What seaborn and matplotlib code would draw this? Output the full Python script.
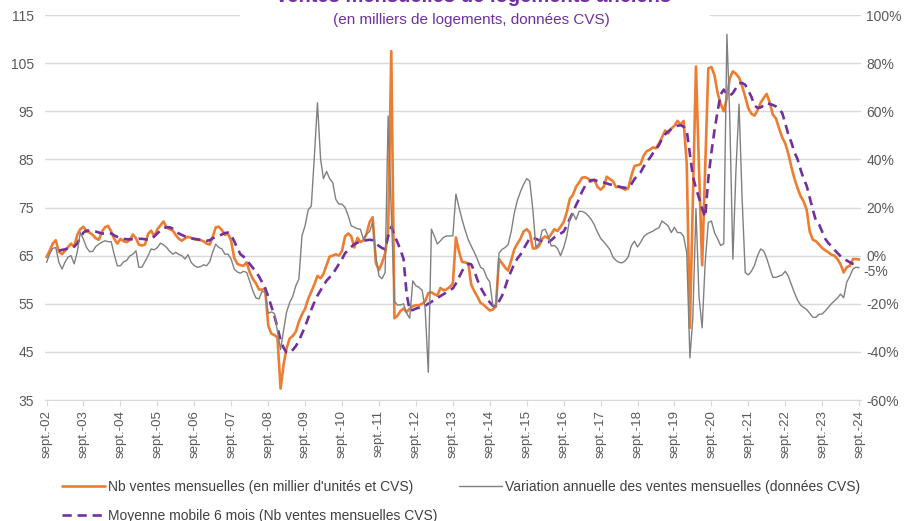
import numpy as np
import pandas as pd
import matplotlib
matplotlib.use("Agg")
import matplotlib.pyplot as plt
from matplotlib.patches import Rectangle
from matplotlib.ticker import FuncFormatter
import seaborn as sns

# Données mensuelles : sept. 2002 -> sept. 2024
months = pd.date_range("2002-09-01", periods=265, freq="MS")

# Nb ventes mensuelles (milliers, CVS)
ventes = [
    64.7, 66.0, 67.5, 68.2, 65.8, 65.3, 66.0, 66.8, 67.5, 66.8, 69.3, 70.5,
    71.0, 70.0, 69.8, 69.3, 68.6, 68.3, 70.0, 70.9, 71.2, 70.0, 68.5, 67.5,
    68.5, 68.0, 67.8, 68.2, 69.4, 68.6, 67.3, 67.1, 67.3, 69.5, 70.2, 69.0,
    70.5, 71.3, 72.1, 70.8, 70.5, 70.2, 69.3, 68.5, 68.1, 68.6, 68.9, 68.7,
    68.4, 68.3, 68.2, 68.0, 67.5, 67.3, 68.8, 70.9, 71.0, 70.3, 69.3, 69.6,
    68.0, 64.5, 63.3, 63.0, 62.9, 63.6, 61.6, 60.2, 59.3, 58.0, 57.9, 58.2,
    50.5, 48.8, 48.5, 48.0, 37.4, 42.5, 45.7, 47.8, 48.3, 49.2, 51.3, 52.8,
    54.0, 56.0, 57.5, 59.0, 60.8, 60.3, 61.2, 63.0, 64.8, 65.0, 65.3, 65.0,
    66.0, 69.0, 69.6, 69.0, 66.7, 68.7, 67.8, 68.2, 69.5, 72.0, 73.0, 63.5,
    62.0, 63.5, 65.5, 70.0, 107.5, 52.0, 52.5, 53.5, 54.0, 53.3, 54.0, 54.5,
    54.7, 54.7, 55.0, 55.5, 57.2, 57.4, 57.0, 56.7, 58.3, 57.8, 58.0, 58.5,
    59.2, 68.8, 65.8, 63.7, 63.6, 63.4, 59.0, 57.6, 56.5, 55.2, 54.8, 54.2,
    53.6, 53.8, 54.5, 64.3, 63.4, 62.5, 61.9, 64.0, 66.3, 67.5, 68.5, 70.0,
    70.5, 69.8, 66.5, 66.5, 67.0, 68.5, 69.0, 68.6, 69.5, 70.5, 70.1, 71.0,
    72.0, 74.0, 76.8, 77.6, 79.3, 80.2, 81.2, 81.3, 81.0, 80.4, 80.8, 79.3,
    78.7, 79.3, 81.4, 80.9, 80.5, 79.2, 79.4, 79.0, 78.7, 79.0, 81.5, 83.6,
    83.8, 84.0, 85.8, 86.7, 87.0, 87.5, 87.3, 88.3, 89.6, 91.0, 90.4, 91.4,
    92.0, 93.0, 92.3, 93.0, 84.0, 50.0, 76.0, 104.3, 83.0, 63.0, 83.0, 103.9,
    104.2, 102.5, 98.8, 96.5, 95.0, 97.8, 101.8, 103.3, 102.8, 102.0, 100.3, 98.0,
    95.6, 94.5, 94.1, 95.2, 96.8, 97.8, 98.6, 96.8, 94.3, 93.5, 91.5, 89.6,
    88.3, 86.2, 83.4, 81.0, 79.0, 77.3, 76.3, 74.5, 70.0, 68.3, 68.0, 67.3,
    66.6, 66.1, 65.7, 65.2, 65.0, 64.2, 63.2, 61.5, 62.6, 62.9, 64.3, 64.3,
    64.2,
]

# Moyenne mobile 6 mois
moyenne_6m = [
    np.nan, np.nan, np.nan, np.nan, 66.0, 66.2, 66.3, 66.5, 66.7, 66.9, 67.5, 68.8,
    69.8, 70.2, 70.2, 70.1, 70.0, 69.8, 69.6, 69.6, 69.7, 69.6, 69.2, 68.9,
    68.6, 68.5, 68.4, 68.4, 68.4, 68.4, 68.5, 68.5, 68.4, 68.3, 68.4, 69.0,
    69.6, 70.2, 70.7, 70.9, 70.9, 70.6, 70.1, 69.6, 69.3, 69.0, 68.8, 68.6,
    68.5, 68.4, 68.3, 68.2, 68.1, 68.2, 68.6, 68.9, 69.1, 69.4, 69.7, 69.8,
    69.2, 68.0, 66.5, 65.3, 64.8, 64.0, 63.3, 62.5, 61.7, 60.7, 59.5, 58.3,
    56.5, 54.5, 52.5, 50.0, 47.5, 45.8, 44.9, 44.8, 45.4, 46.2, 47.3, 48.8,
    50.3, 52.0, 53.8, 55.3, 56.7, 57.8, 58.8, 59.8, 60.5, 61.2, 62.2, 63.2,
    64.3, 65.5, 66.2, 66.8, 67.4, 67.7, 67.9, 68.1, 68.2, 68.3, 68.2, 67.6,
    67.0, 66.6, 66.3, 69.0, 71.0, 69.2, 67.8, 66.2, 64.3, 57.0, 53.6, 53.7,
    54.0, 54.2, 54.4, 54.6, 55.0, 55.4, 55.8, 56.2, 56.6, 57.0, 57.4, 57.8,
    58.2, 59.2, 60.5, 61.8, 62.8, 63.3, 63.2, 61.8, 60.0, 58.4, 57.3, 56.2,
    55.3, 54.6, 54.4, 55.5, 56.7, 58.5, 60.3, 61.8, 63.3, 64.4, 65.2, 66.4,
    67.5, 68.6, 68.7, 68.5, 68.2, 68.0, 67.8, 67.8, 68.2, 68.8, 69.2, 69.6,
    70.0, 71.2, 72.7, 74.0, 75.5, 76.8, 78.3, 79.5, 80.2, 80.7, 80.7, 80.5,
    80.3, 80.2, 80.0, 79.8, 79.7, 79.4, 79.3, 79.2, 79.1, 79.1, 79.8, 80.9,
    81.6, 82.3, 83.5, 84.5, 85.3, 86.3, 87.0, 88.0, 89.2, 90.2, 90.8, 91.3,
    91.7, 92.0, 92.1, 91.8, 91.0, 86.0, 81.5, 79.0, 77.0, 74.8, 73.0, 81.0,
    86.5, 91.0, 95.0, 98.5, 99.5, 98.5, 98.2, 98.8, 99.8, 100.8, 100.9, 100.5,
    99.3, 98.0, 96.2, 95.7, 95.8, 96.2, 96.7, 96.5, 96.3, 96.0, 95.4, 94.7,
    92.5, 90.2, 88.5, 86.5, 85.0, 82.8, 81.0, 79.5, 77.0, 74.5, 72.3, 71.5,
    70.0, 68.5, 67.6, 67.0, 66.2, 65.5, 64.9, 64.3, 64.0, 63.6, 63.3, 63.2,
    63.2,
]

# Variation annuelle (%)
variation = [
    -2.8, 0.6, 3.0, 3.4, -2.8, -5.6, -2.8, -0.6, 0.0, -3.4, 1.4, 9.6,
    6.8, 3.4, 1.6, 1.8, 3.8, 4.8, 5.6, 6.2, 5.8, 5.8, 0.5, -4.2,
    -4.2, -2.6, -2.0, -0.2, 0.6, 2.0, -4.8, -4.8, -2.5, 0.0, 2.8, 2.4,
    3.4, 5.2, 4.5, 3.4, 1.8, 0.6, 1.4, 0.5, 0.0, -1.4, 0.4, -2.8,
    -4.2, -4.8, -4.6, -3.8, -4.2, -2.5, 1.4, 4.8, 3.4, 2.8, 0.6, 0.6,
    -1.5, -5.6, -6.8, -7.3, -6.5, -7.0, -10.5, -14.5, -17.5, -18.0, -15.0, -15.0,
    -24.0, -23.4, -24.0, -31.5, -39.0, -31.0, -23.5, -19.5, -17.0, -12.5, -9.8, 8.3,
    12.5, 19.0, 20.6, 41.0, 63.5, 40.0, 32.0, 35.0, 32.0, 30.4, 23.4, 21.4,
    21.4, 20.0, 16.6, 12.4, 11.8, 11.2, 11.0, 6.8, 9.0, 10.0, 14.0, 0.0,
    -8.4, -9.6, -7.0, 58.0, 18.0, -19.0, -20.5, -20.5, -20.0, -24.0, -26.0, -10.5,
    -12.5, -13.2, -14.4, -22.0, -48.5, 11.0, 8.2, 4.8, 6.2, 7.6, 8.2, 8.2,
    8.2, 25.6, 20.0, 15.0, 10.5, 6.5, 4.0, 1.4, -1.5, -4.8, -5.6, -9.0,
    -11.0, -20.6, -21.5, 1.0, 2.6, 3.4, 4.6, 10.0, 17.6, 23.0, 26.5, 29.6,
    32.0, 31.0, 19.0, 3.5, 5.0, 10.5, 11.0, 8.0, 4.0, 4.2, 3.0, 0.0,
    3.4, 8.0, 15.6, 17.6, 15.0, 18.4, 18.4, 17.8, 16.6, 15.0, 12.8, 9.8,
    7.2, 5.8, 4.2, 2.6, -0.6, -2.0, -2.8, -3.0, -2.2, -0.5, 4.0, 6.0,
    3.6, 5.5, 7.8, 9.0, 9.6, 10.2, 11.0, 11.6, 14.4, 13.4, 12.4, 9.6,
    11.8, 9.6, 9.6, 8.0, 1.0, -42.5, -26.0, 19.5, -17.0, -30.0, -3.0, 13.8,
    14.4, 9.6, 7.0, 4.2, 5.0, 92.0, 58.0, -1.5, 35.0, 63.0, 24.0, -7.0,
    -8.0, -6.5, -4.0, 0.0, 2.8, 1.8, -1.0, -5.2, -9.0, -9.0, -8.5, -8.0,
    -6.5, -8.5, -12.0, -15.5, -18.5, -20.6, -21.5, -22.4, -24.0, -25.6, -25.6, -24.4,
    -24.2, -23.0, -21.5, -20.0, -18.8, -17.5, -16.0, -17.5, -11.0, -8.5, -5.6, -4.8,
    -5.0,
]

tick_labels = ["sept.-02", "sept.-03", "sept.-04", "sept.-05", "sept.-06", "sept.-07",
               "sept.-08", "sept.-09", "sept.-10", "sept.-11", "sept.-12", "sept.-13",
               "sept.-14", "sept.-15", "sept.-16", "sept.-17", "sept.-18", "sept.-19",
               "sept.-20", "sept.-21", "sept.-22", "sept.-23", "sept.-24"]

df = pd.DataFrame({"date": months, "ventes": ventes, "mm6": moyenne_6m, "variation": variation})

ORANGE = "#ED7D31"
GRIS = "#808080"
VIOLET = "#7030A0"
TXT = "#595959"

sns.set_style("white")
plt.rcParams["font.family"] = ["Liberation Sans", "DejaVu Sans"]

fig = plt.figure(figsize=(9.08, 5.21), dpi=100)
ax = fig.add_axes([0.0495, 0.2322, 0.8984, 0.7390])
ax2 = ax.twinx()

sns.lineplot(data=df, x="date", y="ventes", ax=ax, color=ORANGE, lw=1.9, errorbar=None)
sns.lineplot(data=df, x="date", y="mm6", ax=ax, color=VIOLET, lw=1.9, errorbar=None)
ax.lines[1].set_dashes((3.5, 2.2))
sns.lineplot(data=df, x="date", y="variation", ax=ax2, color=GRIS, lw=1.0, errorbar=None)

# axe gauche
ax.set_ylim(35, 115)
ax.set_yticks(range(35, 116, 10))
ax.set_xlim(pd.Timestamp("2002-08-16"), pd.Timestamp("2024-09-16"))
ax.set_xticks(months[::12])
ax.set_xticklabels(tick_labels, rotation=90, fontsize=9.5, color=TXT)
ax.tick_params(axis="y", length=0, pad=8, labelsize=10, labelcolor=TXT)
ax.tick_params(axis="x", length=4, color="#D9D9D9", pad=3, bottom=True)
ax.yaxis.grid(True, color="#D9D9D9", lw=1)
ax.xaxis.grid(False)
for s in ["top", "left", "right"]:
    ax.spines[s].set_visible(False)
ax.spines["bottom"].set_color("#D9D9D9")
ax.set_xlabel("")
ax.set_ylabel("")

# axe droit
ax2.set_ylim(-60, 100)
ax2.set_yticks(range(-60, 101, 20))
ax2.yaxis.set_major_formatter(FuncFormatter(lambda v, p: f"{v:.0f}%"))
ax2.tick_params(axis="y", length=0, pad=4, labelsize=10, labelcolor=TXT)
for s in ax2.spines.values():
    s.set_visible(False)
ax2.set_ylabel("")
ax2.grid(False)

# étiquette de la dernière valeur
ax2.annotate(f"{variation[-1]:.0f}%", xy=(months[-1], variation[-1]), xytext=(3, -3),
             textcoords="offset points", ha="left", va="center", fontsize=10,
             color=TXT, annotation_clip=False)

# cadre blanc du titre
fig.add_artist(Rectangle((240 / 908, 1 - 30 / 521), 470 / 908, 30 / 521,
                         transform=fig.transFigure, facecolor="white",
                         edgecolor="none", zorder=2))
fig.text(0.5215, 1 - 2 / 521, "Ventes mensuelles de logements anciens", ha="center",
         va="baseline", fontsize=14.5, fontweight="bold", color=VIOLET, zorder=5)
fig.text(0.519, 1 - 24 / 521, "(en milliers de logements, données CVS)", ha="center",
         va="baseline", fontsize=11, color=VIOLET, zorder=5)

handles = [ax.lines[0], ax.lines[1], ax2.lines[0]]
labels = ["Nb ventes mensuelles (en millier d'unités et CVS)",
          "Moyenne mobile 6 mois (Nb ventes mensuelles CVS)",
          "Variation annuelle des ventes mensuelles (données CVS)"]
fig.legend(handles, labels, ncol=2, loc="upper left", bbox_to_anchor=(62 / 908, 1 - 480 / 521),
           frameon=False, fontsize=10, handlelength=3.1, handletextpad=0.2,
           columnspacing=1.6, labelspacing=1.1, borderpad=0, borderaxespad=0,
           labelcolor="#404040")

fig.savefig("out.png", dpi=100)
